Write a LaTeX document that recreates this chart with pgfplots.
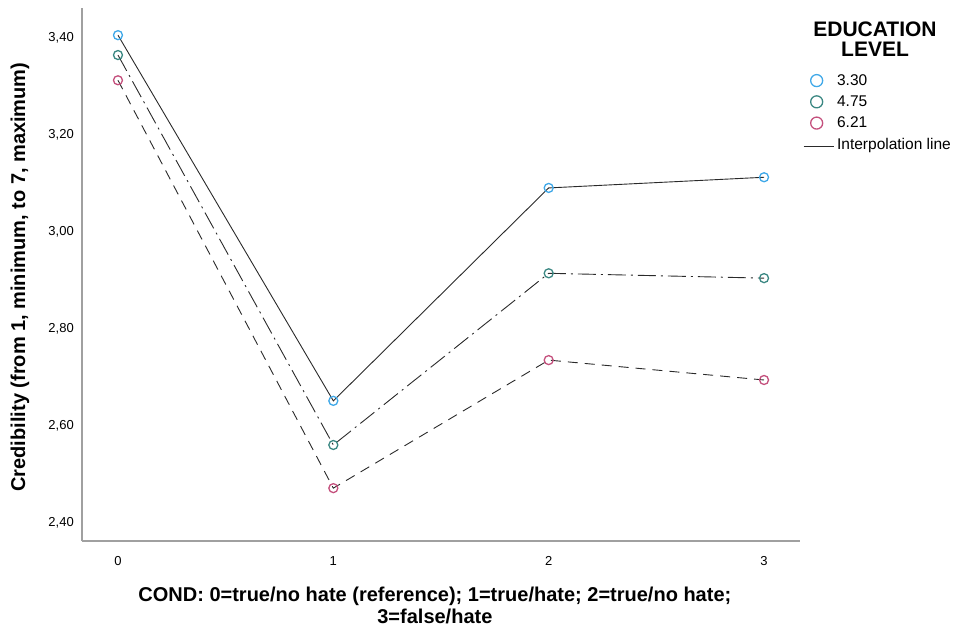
\documentclass[border=0pt]{standalone}
\usepackage{fontspec}
\setmainfont{Liberation Sans}
\usepackage{pgfplots}
\pgfplotsset{compat=1.18}
\definecolor{cblue}{HTML}{3FA8E8}
\definecolor{cteal}{HTML}{3A8782}
\definecolor{cpink}{HTML}{C4507D}
\definecolor{axgray}{HTML}{A0A0A0}
\definecolor{lgray}{HTML}{2A2A2A}
\pgfplotsset{
  mymarklegend/.style={legend image code/.code={\draw[mark repeat=2,mark phase=2,##1] plot coordinates {(0pt,0pt) (13pt,0pt) (26pt,0pt)};}},
  mylinelegend/.style={legend image code/.code={\draw[##1] (0pt,-1.5pt) -- (30pt,-1.5pt);}},
}
\begin{document}
\begin{tikzpicture}[x=1pt,y=1pt]
\path[use as bounding box] (0,0) rectangle (957,-627);
\begin{axis}[
  at={(82pt,-541pt)}, anchor=south west,
  scale only axis, width=718pt, height=533pt,
  xmin=-0.167, xmax=3.167, ymin=2.363, ymax=3.462,
  axis lines*=left,
  axis line style={axgray, line width=1.3pt, -},
  xtick={0,1,2,3}, ytick={2.4,2.6,2.8,3.0,3.2,3.4},
  major tick length=0pt,
  tick label style={font=\fontsize{13}{15}\selectfont},
  /pgf/number format/assume math mode=true,
  yticklabel style={/pgf/number format/.cd, fixed, fixed zerofill, precision=2, use comma, /tikz/.cd, inner sep=0pt, xshift=-8pt},
  xticklabel style={inner sep=0pt, yshift=-15pt},
  xlabel={COND: 0=true/no hate (reference); 1=true/hate; 2=true/no hate;\\3=false/hate},
  xlabel style={at={(axis description cs:0.4915,-0.0864)}, anchor=north, align=center, inner sep=0pt, font=\bfseries\fontsize{20}{22}\selectfont},
  ylabel={Credibility (from 1, minimum, to 7, maximum)},
  ylabel style={at={(axis description cs:-0.0864,0.495)}, anchor=center, inner sep=0pt, font=\bfseries\fontsize{20}{22}\selectfont},
  legend style={at={(axis description cs:1.0042,0.8795)}, anchor=north west, draw=none, fill=none, inner sep=0pt, row sep=5pt, font=\fontsize{15.5}{17}\selectfont, nodes={inner xsep=3pt}},
  legend cell align=left,
  clip=false,
]
\addplot[forget plot, lgray, line width=0.9pt, mark=o, mark size=4.5pt, mark options={cblue, solid, line width=1.3pt}]
  coordinates {(0,3.406) (1,2.652) (2,3.091) (3,3.113)};
\addplot[forget plot, lgray, line width=0.9pt, dash pattern=on 18pt off 5pt on 2pt off 5pt, mark=o, mark size=4.5pt, mark options={cteal, solid, line width=1.3pt}]
  coordinates {(0,3.365) (1,2.561) (2,2.915) (3,2.905)};
\addplot[forget plot, lgray, line width=0.9pt, dash pattern=on 10pt off 7pt, mark=o, mark size=4.5pt, mark options={cpink, solid, line width=1.3pt}]
  coordinates {(0,3.313) (1,2.472) (2,2.736) (3,2.695)};
\addlegendimage{only marks, mark=o, mark size=6pt, cblue, line width=1.3pt, mymarklegend}
\addlegendentry{3.30}
\addlegendimage{only marks, mark=o, mark size=6pt, cteal, line width=1.3pt, mymarklegend}
\addlegendentry{4.75}
\addlegendimage{only marks, mark=o, mark size=6pt, cpink, line width=1.3pt, mymarklegend}
\addlegendentry{6.21}
\addlegendimage{lgray, line width=0.9pt, mylinelegend}
\addlegendentry{Interpolation line}
\end{axis}
\node[anchor=base, font=\bfseries\fontsize{21}{21}\selectfont] at (875,-36.7) {EDUCATION};
\node[anchor=base, font=\bfseries\fontsize{21}{21}\selectfont] at (875,-56.7) {LEVEL};
\end{tikzpicture}
\end{document}
